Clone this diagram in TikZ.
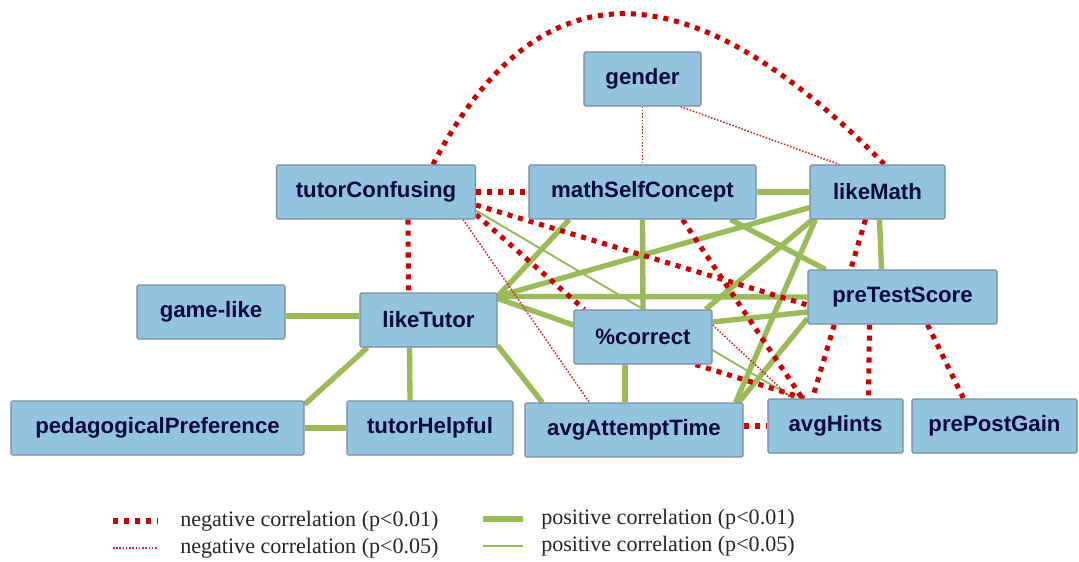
\documentclass[tikz,border=0pt]{standalone}
\usepackage{fontspec}
\setmainfont{Liberation Serif}
\setsansfont{Liberation Sans}
\usepackage{tikz}
\usetikzlibrary{calc, backgrounds}

\definecolor{boxblue}{RGB}{147,196,223}
\definecolor{boxedge}{RGB}{125,138,158}
\definecolor{boxtext}{RGB}{10,10,60}
\definecolor{corrgreen}{RGB}{155,187,89}
\definecolor{corrred}{RGB}{204,0,0}

\tikzset{
  corrbox/.style={
    rectangle, draw=boxedge, line width=0.8pt, fill=boxblue,
    rounded corners=1pt, inner sep=0pt, minimum height=1.35cm,
    font=\sffamily\bfseries\fontsize{15.8}{18}\selectfont, text=boxtext
  },
  negstrong/.style={
    draw=corrred, line width=3.6pt, dash pattern=on 3.6pt off 4.2pt
  },
  negweak/.style={
    draw=corrred!85, line width=1.1pt, dash pattern=on 1.1pt off 1.2pt
  },
  posstrong/.style={
    draw=corrgreen, line width=3.8pt
  },
  posweak/.style={
    draw=corrgreen, line width=1.4pt
  },
  legendtext/.style={
    anchor=west, inner sep=0pt, text=black!85,
    font=\fontsize{15.7}{18}\selectfont
  },
}

\begin{document}
\begin{tikzpicture}[x=0.025cm, y=-0.025cm]
  \useasboundingbox (0,0) rectangle (1079,561);

  % === Variables ===
  \node[corrbox, minimum width=2.925cm] (gender) at (642.5,79) {gender};

  \node[corrbox, minimum width=4.975cm] (tutor_confusing) at (376,192) {tutorConfusing};
  \node[corrbox, minimum width=5.675cm] (math_self) at (642.5,192) {mathSelfConcept};
  \node[corrbox, minimum width=3.375cm] (like_math) at (877.5,192) {likeMath};

  \node[corrbox, minimum width=3.7cm] (game_like) at (211,312) {game-like};
  \node[corrbox, minimum width=3.425cm] (like_tutor) at (428.5,320) {likeTutor};
  \node[corrbox, minimum width=3.45cm] (pct_correct) at (643,337) {\%correct};
  \node[corrbox, minimum width=4.725cm] (pre_test) at (902.5,297) {preTestScore};

  \node[corrbox, minimum width=7.325cm] (ped_pref) at (157.5,428) {pedagogicalPreference};
  \node[corrbox, minimum width=4.15cm] (tutor_helpful) at (430,428) {tutorHelpful};
  \node[corrbox, minimum width=5.45cm] (avg_time) at (634,430) {avgAttemptTime};
  \node[corrbox, minimum width=3.375cm] (avg_hints) at (835.5,426) {avgHints};
  \node[corrbox, minimum width=4.125cm] (pre_post) at (994.5,426) {prePostGain};

  \begin{pgfonlayer}{background}
    % === Positive correlations ===
    \draw[posstrong] ($(game_like.east)+(0,4)$) -- ($(like_tutor.west)+(0,-4)$);
    \draw[posstrong] ($(like_tutor.south west)+(8,0)$) -- ($(ped_pref.north east)+(0,4)$);
    \draw[posstrong] ($(like_tutor.south)+(-19,0)$) -- ($(tutor_helpful.north)+(-20,0)$);
    \draw[posstrong] (ped_pref.east) -- (tutor_helpful.west);
    \draw[posstrong] ($(like_tutor.south east)+(0,-2)$) -- ($(avg_time.north west)+(18,0)$);
    \draw[posstrong] ($(like_tutor.north east)+(0,4)$) -- ($(math_self.south west)+(41,0)$);
    \draw[posstrong] ($(like_tutor.north east)+(0,4)$) -- ($(like_math.south west)+(0,-12)$);
    \draw[posstrong] ($(like_tutor.north east)+(0,4)$) -- (pre_test.west);
    \draw[posstrong] ($(like_tutor.north east)+(0,6)$) -- ($(pct_correct.west)+(0,-12)$);
    \draw[posstrong] (math_self.south) -- (pct_correct.north);
    \draw[posstrong] (math_self.east) -- (like_math.west);
    \draw[posstrong] ($(math_self.south east)+(-26,0)$) -- ($(pre_test.north west)+(18,0)$);
    \draw[posstrong] ($(like_math.south)+(2,0)$) -- ($(pre_test.north)+(-21,0)$);
    \draw[posstrong] ($(like_math.south west)+(3,0)$) -- ($(pct_correct.north east)+(-7,0)$);
    \draw[posstrong] ($(like_math.south west)+(6,0)$) -- ($(avg_time.north east)+(-8,0)$);
    \draw[posstrong] ($(pre_test.west)+(0,15)$) -- ($(pct_correct.east)+(0,-15)$);
    \draw[posstrong] ($(pre_test.south west)+(0,-6)$) -- ($(avg_time.north east)+(-5,0)$);
    \draw[posstrong] ($(pct_correct.south)+(-18,0)$) -- ($(avg_time.north)+(-9,0)$);
    \draw[posweak] ($(tutor_confusing.south east)+(0,-9)$) -- ($(avg_hints.north west)+(27,0)$);

    % === Negative correlations ===
    \draw[negstrong] ($(tutor_confusing.north)+(57,0)$) .. controls +(105,-201) and +(-198,-201) .. ($(like_math.north)+(7,0)$);
    \draw[negstrong] (tutor_confusing.east) -- (math_self.west);
    \draw[negstrong] ($(tutor_confusing.south)+(32,0)$) -- ($(like_tutor.north)+(-20,0)$);
    \draw[negstrong] ($(tutor_confusing.east)+(0,13)$) -- ($(pre_test.west)+(0,8)$);
    \draw[negstrong] ($(tutor_confusing.south east)+(0,-5)$) -- ($(pct_correct.north west)+(11,0)$);
    \draw[negstrong] ($(math_self.south)+(40,0)$) -- ($(avg_hints.north west)+(35,0)$);
    \draw[negstrong] ($(like_math.south)+(-12,0)$) -- ($(avg_hints.north west)+(45,0)$);
    \draw[negstrong] ($(pre_test.south)+(-33,0)$) -- ($(avg_hints.north)+(33,0)$);
    \draw[negstrong] ($(pre_test.south)+(25,0)$) -- ($(pre_post.north)+(-31,0)$);
    \draw[negstrong] ($(avg_time.east)+(0,-4)$) -- (avg_hints.west);
    \draw[negstrong] ($(pct_correct.south east)+(-17,0)$) -- ($(avg_hints.north west)+(37,0)$);

    \draw[negweak] (gender.south) -- (math_self.north);
    \draw[negweak] ($(gender.south east)+(-21,0)$) -- ($(like_math.north west)+(30,0)$);
    \draw[negweak] ($(tutor_confusing.south east)+(-13,0)$) -- ($(avg_time.north west)+(65,0)$);
    \draw[negweak] ($(pct_correct.east)+(0,-12)$) -- ($(avg_hints.north west)+(24,0)$);
  \end{pgfonlayer}

  % === Legend ===
  \node[legendtext] (leg_neg_strong) at (180,521) {negative correlation (p<0.01)};
  \node[legendtext] (leg_neg_weak) at (180,548) {negative correlation (p<0.05)};
  \node[legendtext] (leg_pos_strong) at (541,519) {positive correlation (p<0.01)};
  \node[legendtext] (leg_pos_weak) at (541,546) {positive correlation (p<0.05)};

  \draw[negstrong] ($(leg_neg_strong.west)+(-67,0)$) -- ($(leg_neg_strong.west)+(-22,0)$);
  \draw[negweak] ($(leg_neg_weak.west)+(-67,0)$) -- ($(leg_neg_weak.west)+(-22,0)$);
  \draw[posstrong] ($(leg_pos_strong.west)+(-58,0)$) -- ($(leg_pos_strong.west)+(-18,0)$);
  \draw[posweak] ($(leg_pos_weak.west)+(-58,0)$) -- ($(leg_pos_weak.west)+(-18,0)$);

\end{tikzpicture}
\end{document}
